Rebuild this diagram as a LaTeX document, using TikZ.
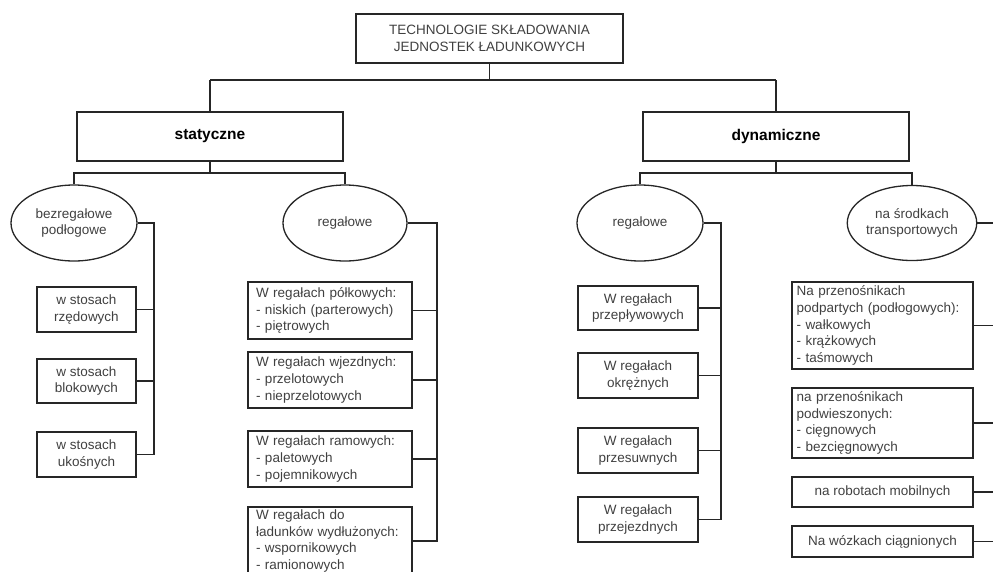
\documentclass[tikz,border=0pt]{standalone}
\usepackage{fontspec}
\setmainfont{Liberation Sans}
\usetikzlibrary{shapes.geometric}
\begin{document}
\begin{tikzpicture}[x=1pt,y=-1pt,
  every node/.style={font=\fontsize{13.5}{16.7}\selectfont, text=black!75},
  conn/.style={draw=black!85, line width=1.3pt},
  box/.style={draw=black!85, line width=1.4pt, rectangle, inner sep=0pt, align=center},
  lbox/.style={box, align=left, inner xsep=8pt, text width=#1},
  fbox/.style={box, align=left, inner xsep=4.5pt, text width=#1},
  oval/.style={draw=black!85, line width=1.3pt, ellipse, inner sep=0pt, align=center},
  mainbox/.style={box, font=\fontsize{15.5}{18}\selectfont\bfseries, text=black}
]
\useasboundingbox (0,0) rectangle (993,571);
\clip (0,0) rectangle (993,571);

% top level
\node[box, minimum width=267pt, minimum height=49pt] (top) at (489.5,38.5)
  {TECHNOLOGIE SKŁADOWANIA\\JEDNOSTEK ŁADUNKOWYCH};
\node[mainbox, minimum width=266pt, minimum height=49pt] (stat) at (210,136.5) {statyczne};
\node[mainbox, minimum width=266pt, minimum height=49pt] (dyn) at (776,136.5) {dynamiczne};

% ellipses
\node[oval, minimum width=126pt, minimum height=76pt] (e1) at (74,223) {bezregałowe\\podłogowe};
\node[oval, minimum width=124pt, minimum height=76pt] (e2) at (345,223) {regałowe};
\node[oval, minimum width=126pt, minimum height=76pt] (e3) at (640,223) {regałowe};
\node[oval, minimum width=122pt, minimum height=75pt] (e4) at (912,223) {na środkach\\transportowych};

% bezregalowe boxes
\node[box, minimum width=99pt, minimum height=45pt] (b1) at (86.5,309.5) {w stosach\\rzędowych};
\node[box, minimum width=99pt, minimum height=44pt] (b2) at (86.5,381) {w stosach\\blokowych};
\node[box, minimum width=99pt, minimum height=45pt] (b3) at (86.5,454.5) {w stosach\\ukośnych};

% regalowe (static) boxes
\node[lbox=148pt, minimum height=57pt] (c1) at (330,310.5)
  {W regałach półkowych:\\- niskich (parterowych)\\- piętrowych};
\node[lbox=148pt, minimum height=56pt] (c2) at (330,380)
  {W regałach wjezdnych:\\- przelotowych\\- nieprzelotowych};
\node[lbox=148pt, minimum height=56pt] (c3) at (330,459)
  {W regałach ramowych:\\- paletowych\\- pojemnikowych};
\node[lbox=148pt, minimum height=68pt] (c4) at (330,541)
  {W regałach do\\ładunków wydłużonych:\\- wspornikowych\\- ramionowych};

% regalowe (dynamic) boxes
\node[box, minimum width=120pt, minimum height=44pt] (d1) at (638,308) {W regałach\\przepływowych};
\node[box, minimum width=120pt, minimum height=45pt] (d2) at (638,375.5) {W regałach\\okrężnych};
\node[box, minimum width=120pt, minimum height=45pt] (d3) at (638,450.5) {W regałach\\przesuwnych};
\node[box, minimum width=120pt, minimum height=45pt] (d4) at (638,519.5) {W regałach\\przejezdnych};

% transport boxes
\node[fbox=172pt, minimum height=87pt] (f1) at (882.5,325.5)
  {Na przenośnikach\\podpartych (podłogowych):\\- wałkowych\\- krążkowych\\- taśmowych};
\node[fbox=172pt, minimum height=70pt] (f2) at (882.5,423)
  {na przenośnikach\\podwieszonych:\\- cięgnowych\\- bezcięgnowych};
\node[box, minimum width=181pt, minimum height=30pt] (f3) at (882.5,492) {na robotach mobilnych};
\node[box, minimum width=181pt, minimum height=31pt] (f4) at (882.5,541.5) {Na wózkach ciągnionych};

% bus coordinates
\coordinate (h0) at (0,80);
\coordinate (h1) at (0,173);
\coordinate (busA) at (154,0);
\coordinate (busB) at (437,0);
\coordinate (busC) at (721,0);
\coordinate (busD) at (1000,0);

% top connectors
\draw[conn] (top.south) -- (top.south |- h0);
\draw[conn] (stat.north |- h0) -- (dyn.north |- h0);
\draw[conn] (stat.north |- h0) -- (stat.north);
\draw[conn] (dyn.north |- h0) -- (dyn.north);

% statyczne connectors
\draw[conn] (stat.south) -- (stat.south |- h1);
\draw[conn] (e1.north) -- (e1.north |- h1) -- (e2.north |- h1) -- (e2.north);
% dynamiczne connectors
\draw[conn] (dyn.south) -- (dyn.south |- h1);
\draw[conn] (e3.north) -- (e3.north |- h1) -- (e4.north |- h1) -- (e4.north);

% group A
\draw[conn] (e1.east) -- (e1.east -| busA) -- (b3.east -| busA) -- (b3.east);
\draw[conn] (b1.east) -- (b1.east -| busA);
\draw[conn] (b2.east) -- (b2.east -| busA);
% group B
\draw[conn] (e2.east) -- (e2.east -| busB) -- (c4.east -| busB) -- (c4.east);
\draw[conn] (c1.east) -- (c1.east -| busB);
\draw[conn] (c2.east) -- (c2.east -| busB);
\draw[conn] (c3.east) -- (c3.east -| busB);
% group C
\draw[conn] (e3.east) -- (e3.east -| busC) -- (d4.east -| busC) -- (d4.east);
\draw[conn] (d1.east) -- (d1.east -| busC);
\draw[conn] (d2.east) -- (d2.east -| busC);
\draw[conn] (d3.east) -- (d3.east -| busC);
% group D
\draw[conn] (e4.east) -- (e4.east -| busD) -- (f4.east -| busD) -- (f4.east);
\draw[conn] (f1.east) -- (f1.east -| busD);
\draw[conn] (f2.east) -- (f2.east -| busD);
\draw[conn] (f3.east) -- (f3.east -| busD);
\end{tikzpicture}
\end{document}
